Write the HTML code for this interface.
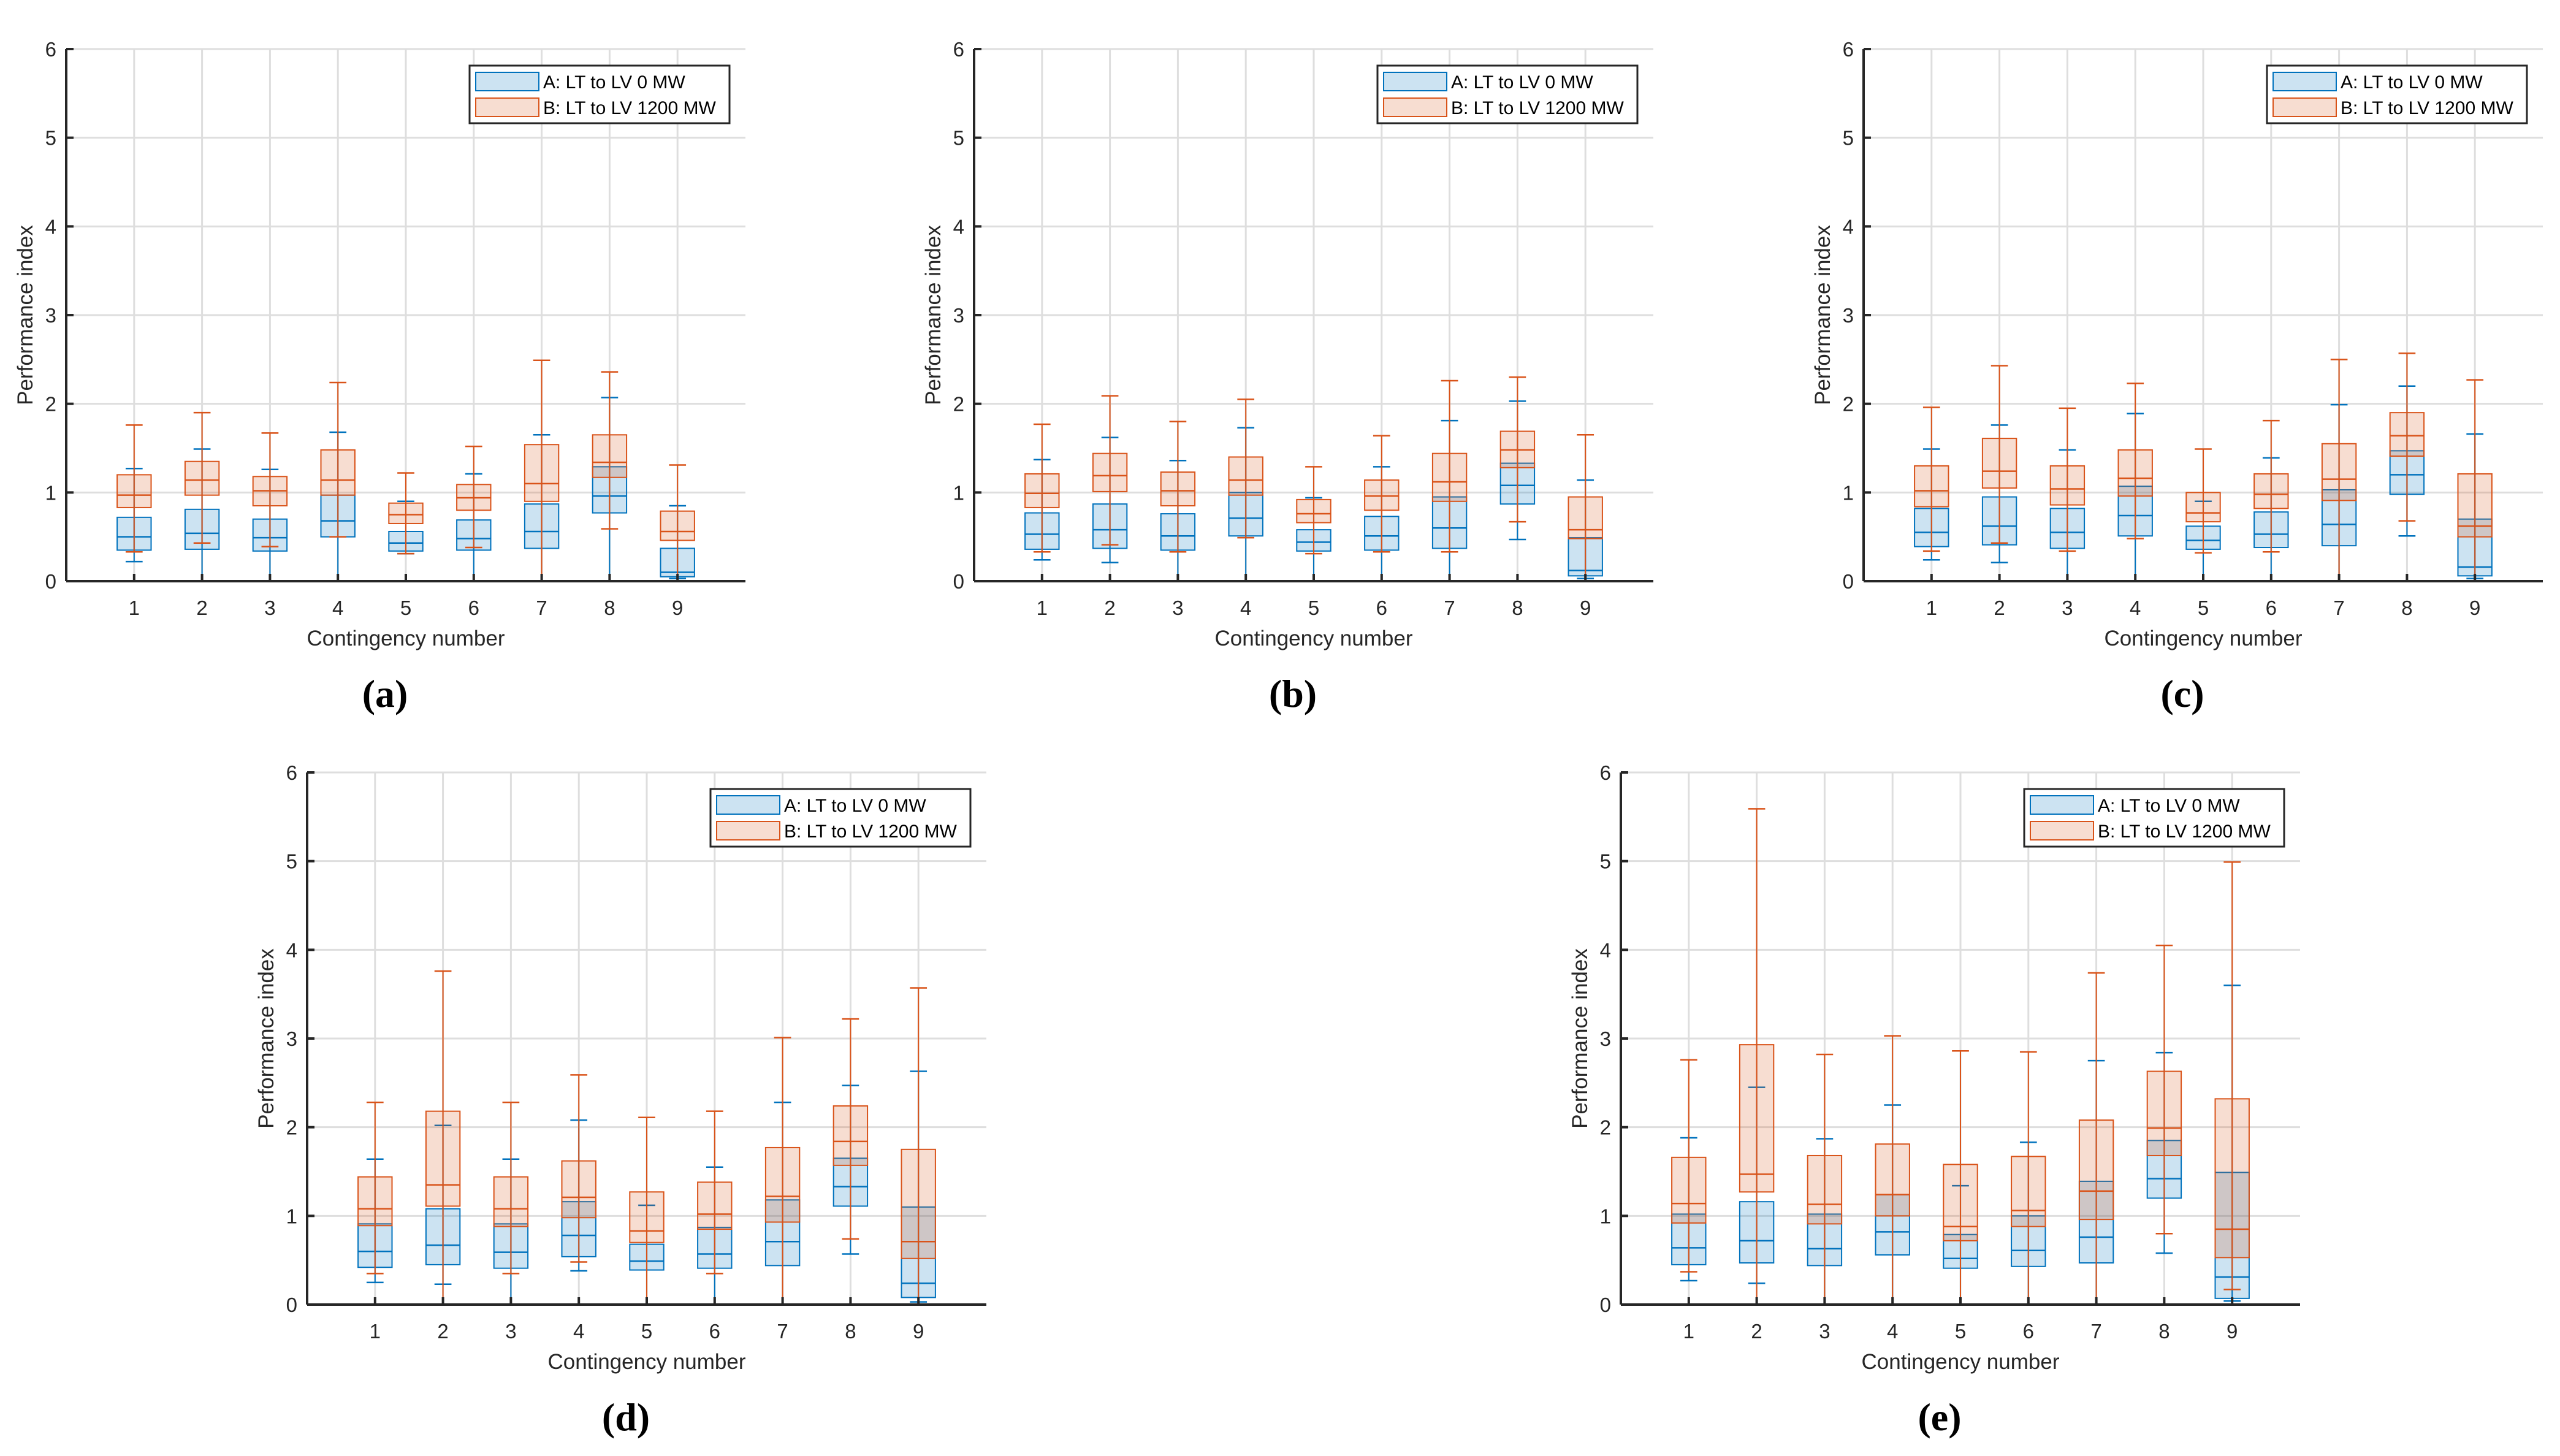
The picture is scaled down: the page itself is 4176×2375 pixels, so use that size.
<!DOCTYPE html>
<html><head><meta charset="utf-8">
<style>
html,body{margin:0;padding:0;background:#fff;}
svg{display:block;font-family:"Liberation Sans",Arial,sans-serif;}
</style></head>
<body>
<svg id="fig" width="4176" height="2375" viewBox="0 0 4176 2375" xmlns="http://www.w3.org/2000/svg"></svg>
<script>
const categories = [1,2,3,4,5,6,7,8,9];
const yTicks = [0,1,2,3,4,5,6];
const panelLabels = ["(a)","(b)","(c)","(d)","(e)"];
const seriesNames = ["A: LT to LV 0 MW","B: LT to LV 1200 MW"];
// each stat array: [lo, q1, median, q3, hi] per category
const aBlue = [[0.22,0.35,0.50,0.72,1.27],[0,0.36,0.54,0.81,1.49],[0,0.34,0.49,0.70,1.26],[0,0.50,0.68,0.97,1.68],[0.31,0.34,0.43,0.56,0.90],[0,0.35,0.48,0.69,1.21],[0,0.37,0.56,0.87,1.65],[0,0.77,0.96,1.29,2.07],[0.03,0.05,0.10,0.37,0.85]];
const aOrange = [[0.33,0.83,0.97,1.20,1.76],[0.43,0.97,1.14,1.35,1.90],[0.39,0.85,1.02,1.18,1.67],[0.50,0.97,1.14,1.48,2.24],[0.31,0.65,0.75,0.88,1.22],[0.38,0.80,0.94,1.09,1.52],[0,0.90,1.10,1.54,2.49],[0.59,1.17,1.34,1.65,2.36],[0,0.46,0.56,0.79,1.31]];
const bBlue = [[0.24,0.36,0.53,0.77,1.37],[0.21,0.37,0.58,0.87,1.62],[0,0.35,0.51,0.76,1.36],[0,0.51,0.71,1.00,1.73],[0,0.34,0.44,0.58,0.94],[0,0.35,0.51,0.73,1.29],[0,0.37,0.60,0.95,1.81],[0.47,0.87,1.08,1.33,2.03],[0.03,0.06,0.12,0.49,1.14]];
const bOrange = [[0.33,0.83,0.99,1.21,1.77],[0.41,1.01,1.19,1.44,2.09],[0.33,0.85,1.02,1.23,1.80],[0.49,0.97,1.14,1.40,2.05],[0.31,0.66,0.76,0.92,1.29],[0.33,0.80,0.96,1.14,1.64],[0.33,0.90,1.12,1.44,2.26],[0.67,1.28,1.48,1.69,2.30],[0,0.48,0.58,0.95,1.65]];
const cBlue = [[0.24,0.39,0.55,0.82,1.49],[0.21,0.41,0.62,0.95,1.76],[0,0.37,0.55,0.82,1.48],[0,0.51,0.74,1.07,1.89],[0,0.36,0.46,0.62,0.90],[0,0.38,0.53,0.78,1.39],[0,0.40,0.64,1.03,1.99],[0.51,0.98,1.20,1.47,2.20],[0.03,0.06,0.16,0.70,1.66]];
const cOrange = [[0.34,0.84,1.02,1.30,1.96],[0.43,1.05,1.24,1.61,2.43],[0.34,0.86,1.04,1.30,1.95],[0.48,0.96,1.16,1.48,2.23],[0.32,0.67,0.77,1.00,1.49],[0.33,0.82,0.98,1.21,1.81],[0,0.91,1.15,1.55,2.50],[0.68,1.41,1.64,1.90,2.57],[0,0.50,0.62,1.21,2.27]];
const dBlue = [[0.25,0.42,0.60,0.91,1.64],[0.23,0.45,0.67,1.08,2.02],[0,0.41,0.59,0.91,1.64],[0.38,0.54,0.78,1.16,2.08],[0,0.39,0.49,0.68,1.12],[0,0.41,0.57,0.87,1.55],[0,0.44,0.71,1.18,2.28],[0.57,1.11,1.33,1.65,2.47],[0.03,0.08,0.24,1.10,2.63]];
const dOrange = [[0.35,0.89,1.08,1.44,2.28],[0,1.11,1.35,2.18,3.76],[0.35,0.88,1.08,1.44,2.28],[0.48,0.98,1.21,1.62,2.59],[0,0.70,0.83,1.27,2.11],[0.35,0.85,1.02,1.38,2.18],[0,0.93,1.22,1.77,3.01],[0.74,1.57,1.84,2.24,3.22],[0,0.52,0.71,1.75,3.57]];
const eBlue = [[0.27,0.45,0.64,1.02,1.88],[0.24,0.47,0.72,1.16,2.45],[0,0.44,0.63,1.02,1.87],[0,0.56,0.82,1.24,2.25],[0,0.41,0.52,0.79,1.34],[0,0.43,0.61,1.00,1.83],[0,0.47,0.76,1.39,2.75],[0.58,1.20,1.42,1.85,2.84],[0.04,0.07,0.31,1.49,3.60]];
const eOrange = [[0.37,0.92,1.14,1.66,2.76],[0,1.27,1.47,2.93,5.59],[0,0.91,1.13,1.68,2.82],[0,1.00,1.24,1.81,3.03],[0,0.72,0.88,1.58,2.86],[0,0.88,1.06,1.67,2.85],[0,0.96,1.28,2.08,3.74],[0.80,1.68,1.99,2.63,4.05],[0.17,0.53,0.85,2.32,4.99]];

const panels = [
 {left:108, top:80, bottom:948, blue:aBlue, orange:aOrange},
 {left:1589, top:80, bottom:948, blue:bBlue, orange:bOrange},
 {left:3040, top:80, bottom:948, blue:cBlue, orange:cOrange},
 {left:501, top:1260, bottom:2128, blue:dBlue, orange:dOrange},
 {left:2644, top:1260, bottom:2128, blue:eBlue, orange:eOrange}
];
const W = 1108, XMIN = 0, XMAX = 10, YMIN = 0, YMAX = 6;
const NS = "http://www.w3.org/2000/svg";
const svg = document.getElementById('fig');
function mk(tag, attrs, parent){
  const e = document.createElementNS(NS, tag);
  for (const k in attrs) e.setAttribute(k, attrs[k]);
  (parent||svg).appendChild(e);
  return e;
}
const BLUE = "#0072bd", ORANGE = "#d95319";

panels.forEach((p, pi) => {
  const g = mk('g', {});
  
  
  const H = p.bottom - p.top;
  const xs = v => p.left + (v - XMIN) / (XMAX - XMIN) * W;
  const ys = v => p.bottom - (v - YMIN) / (YMAX - YMIN) * H;
  const grid = mk('g', {stroke:"#dedede", "stroke-width":3}, g);
  
  
  yTicks.forEach(t => { if (t > 0) mk('line', {x1:p.left, x2:p.left+W, y1:ys(t), y2:ys(t)}, grid); });
  categories.forEach(c => mk('line', {x1:xs(c), x2:xs(c), y1:p.top, y2:p.bottom}, grid));
  [[p.blue, BLUE, 'blue'], [p.orange, ORANGE, 'orange']].forEach(([data, col, nm]) => {
    const sg = mk('g', {}, g);
    
    
    data.forEach((s, i) => {
      const c = categories[i];
      const bw = 0.5, cw = 0.25;
      const bg = mk('g', {}, sg);
      
      
      mk('rect', {x:xs(c-bw/2), y:ys(s[3]), width:xs(c+bw/2)-xs(c-bw/2), height:ys(s[1])-ys(s[3]), fill:col, "fill-opacity":0.2, stroke:col, "stroke-width":2}, bg);
      mk('line', {x1:xs(c), x2:xs(c), y1:ys(s[0]), y2:ys(s[4]), stroke:col, "stroke-width":2}, bg);
      mk('line', {x1:xs(c-bw/2), x2:xs(c+bw/2), y1:ys(s[2]), y2:ys(s[2]), stroke:col, "stroke-width":2.5}, bg);
      mk('line', {x1:xs(c-cw/2), x2:xs(c+cw/2), y1:ys(s[4]), y2:ys(s[4]), stroke:col, "stroke-width":2.5}, bg);
      mk('line', {x1:xs(c-cw/2), x2:xs(c+cw/2), y1:ys(s[0]), y2:ys(s[0]), stroke:col, "stroke-width":2.5}, bg);
    });
  });
  const ax = mk('g', {stroke:"#262626", "stroke-width":4}, g);
  
  
  mk('line', {x1:p.left, x2:p.left, y1:p.top, y2:p.bottom}, ax);
  mk('line', {x1:p.left, x2:p.left+W, y1:p.bottom, y2:p.bottom}, ax);
  yTicks.forEach(t => {
    mk('line', {x1:p.left, x2:p.left+12, y1:ys(t), y2:ys(t)}, ax);
    const tx = mk('text', {x:p.left-16, y:ys(t)+12, "text-anchor":"end", "font-size":33, fill:"#262626"}, g);
    
    
    tx.textContent = t;
  });
  categories.forEach(c => {
    mk('line', {x1:xs(c), x2:xs(c), y1:p.bottom, y2:p.bottom-12}, ax);
    const tx = mk('text', {x:xs(c), y:p.bottom+55, "text-anchor":"middle", "font-size":33, fill:"#262626"}, g);
    
    
    tx.textContent = c;
  });
  const xl = mk('text', {x:p.left+W/2, y:p.bottom+105, "text-anchor":"middle", "font-size":35, fill:"#262626"}, g);
  
  
  xl.textContent = "Contingency number";
  const yc = (p.top+p.bottom)/2;
  const yl = mk('text', {x:p.left-55, y:yc, "text-anchor":"middle", "font-size":35, fill:"#262626", transform:`rotate(-90 ${p.left-55} ${yc})`}, g);
  
  
  yl.textContent = "Performance index";
  const lx = p.left + W - 450, ly = p.top + 27;
  const lg = mk('g', {}, g);
  
  
  mk('rect', {x:lx, y:ly, width:424, height:94, fill:"#fff", stroke:"#262626", "stroke-width":3}, lg);
  [[BLUE, 11], [ORANGE, 53]].forEach(([col, dy], k) => {
    const e = mk('g', {}, lg);
    
    
    mk('rect', {x:lx+10, y:ly+dy, width:103, height:30, fill:col, "fill-opacity":0.2, stroke:col, "stroke-width":2}, e);
    const t = mk('text', {x:lx+120, y:ly+dy+26, "font-size":30, fill:"#000"}, e);
    t.textContent = seriesNames[k];
  });
  const cap = mk('text', {x:p.left+W/2-34, y:p.bottom+205, "text-anchor":"middle", "font-size":64, "font-weight":"bold", "font-family":"'Liberation Serif',serif", fill:"#000"}, g);
  
  
  cap.textContent = panelLabels[pi];
});
</script>
</body></html>
